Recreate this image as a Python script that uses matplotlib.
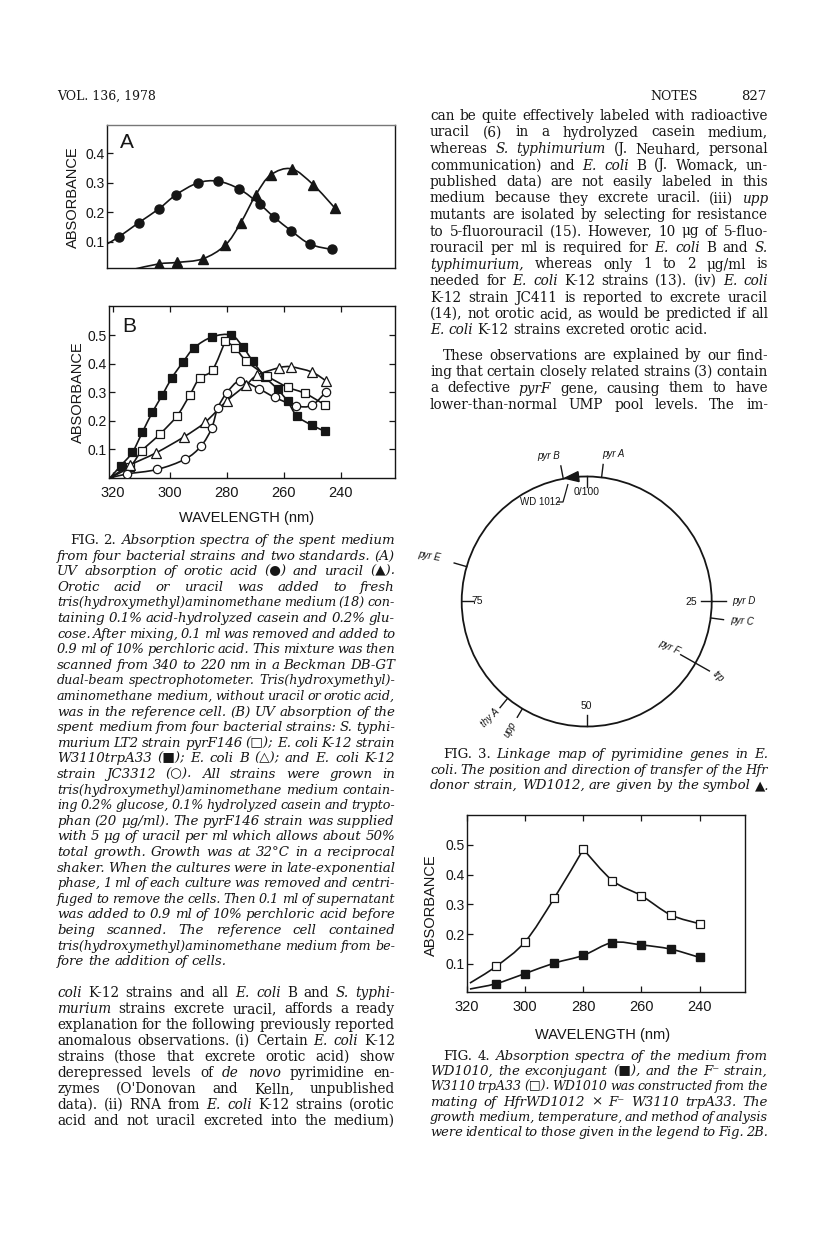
import numpy as np
import matplotlib
matplotlib.use('Agg')
import matplotlib.pyplot as plt
from matplotlib.path import Path
from matplotlib.patches import PathPatch, Circle, Polygon

# ---------------- DATA ----------------
# Fig. 2A : orotic acid (filled circles), uracil (filled triangles)
a_orotic_nm = [317, 310, 303, 297, 289.5, 282.5, 275, 268, 263, 257, 250.5, 243]
a_orotic_abs = [0.115, 0.164, 0.211, 0.259, 0.299, 0.305, 0.278, 0.227, 0.183, 0.136, 0.091, 0.073]
a_orotic_start = (321, 0.092)
a_uracil_nm = [303, 296.7, 287.8, 280, 274.6, 269.3, 264.2, 256.9, 249.4, 241.8]
a_uracil_abs = [0.024, 0.029, 0.041, 0.087, 0.163, 0.259, 0.326, 0.347, 0.293, 0.213]
a_uracil_start = (312, 0.005)

# Fig. 2B : four strains
b_start = (321, 0.0)
b_w3110_nm = [317.2, 313.1, 309.6, 306.1, 302.6, 299.3, 295.4, 291.4, 285.1, 278.4,
              274.2, 270.9, 266.6, 262.1, 258.7, 255.4, 250.2, 245.4]
b_w3110_abs = [0.043, 0.090, 0.160, 0.230, 0.290, 0.350, 0.405, 0.456, 0.494, 0.500,
               0.457, 0.409, 0.354, 0.310, 0.269, 0.217, 0.185, 0.163]
b_lt2_nm = [314, 309.8, 303.4, 297.4, 293, 289.5, 285, 280.5, 277, 273.2, 266, 258.7, 252.5, 245.4]
b_lt2_abs = [0.040, 0.095, 0.154, 0.218, 0.290, 0.350, 0.378, 0.480, 0.455, 0.410, 0.358, 0.318, 0.296, 0.255]
b_lt2_peak = 7
b_ecb_nm = [313.9, 304.8, 295, 287.6, 280, 273.3, 269.3, 261.6, 257.4, 250.2, 245.2]
b_ecb_abs = [0.045, 0.088, 0.144, 0.195, 0.270, 0.325, 0.360, 0.386, 0.389, 0.371, 0.340]
b_jc_nm = [315.1, 304.4, 294.6, 289, 285.3, 283.2, 280, 275.3, 268.7, 263.1, 255.8, 250.2, 245.2]
b_jc_abs = [0.014, 0.030, 0.066, 0.112, 0.174, 0.244, 0.298, 0.340, 0.312, 0.282, 0.253, 0.254, 0.302]

# Fig. 4
f4_nm = [310, 300, 290, 280, 270, 260, 250, 240]
f4_f_minus_abs = [0.092, 0.175, 0.321, 0.485, 0.380, 0.329, 0.265, 0.235]
f4_f_minus_peak = 3
f4_exconj_abs = [0.034, 0.068, 0.103, 0.129, 0.172, 0.164, 0.150, 0.122]
f4_f_minus_start = (319, 0.036)
f4_exconj_start = (319, 0.016)
f4_xticks = [320, 300, 280, 260, 240]
f2_xticks = [320, 300, 280, 260, 240]
yticks_a = [0.1, 0.2, 0.3, 0.4]
yticks_b = [0.1, 0.2, 0.3, 0.4, 0.5]

# Fig. 3 : map positions (minutes, 0-100)
map_scale = [0, 25, 50, 75]
map_scale_labels = ['0/100', '25', '50', '75']
gene_names = ['pyr A', 'pyr B', 'pyr E', 'pyr D', 'pyr C', 'thy A', 'upp']
gene_pos = [1.9, 97.0, 79.5, 25.0, 27.1, 60.9, 58.6]
pyrF_trp_pos = 33.2
wd1012_pos = 98.2

# ---------------- FIGURE ----------------
W, H = 816, 1234
fig = plt.figure(figsize=(W / 100, H / 100), dpi=100)
fig.patch.set_facecolor('white')
INK = '#161616'
SANS = 'Liberation Sans'
SERIF = 'DejaVu Serif'


def ax_at(x0, y0, x1, y1):
    return fig.add_axes([x0 / W, 1 - y1 / H, (x1 - x0) / W, (y1 - y0) / H])


def _bez(ax, pts, lw):
    pts = np.asarray(pts, float)
    n = len(pts)
    verts = [pts[0]]
    codes = [Path.MOVETO]
    for i in range(n - 1):
        p0 = pts[i - 1] if i > 0 else pts[i]
        p1, p2 = pts[i], pts[i + 1]
        p3 = pts[i + 2] if i + 2 < n else pts[i + 1]
        verts += [p1 + (p2 - p0) / 6, p2 - (p3 - p1) / 6, p2]
        codes += [Path.CURVE4] * 3
    patch = PathPatch(Path(verts, codes), fill=False, lw=lw, ec=INK, zorder=2)
    ax.add_patch(patch)
    patch.set_clip_path(ax.patch)


def smooth(ax, xs, ys, cusp=None, lw=1.2):
    pts = list(zip(xs, ys))
    if cusp is None:
        _bez(ax, pts, lw)
    else:
        _bez(ax, pts[:cusp + 1], lw)
        _bez(ax, pts[cusp:], lw)


def style_axes(ax, xlim, ylim, yticks, xticks=None, xlabels=True):
    ax.set_xlim(*xlim)
    ax.set_ylim(*ylim)
    for s in ax.spines.values():
        s.set_linewidth(1.0)
        s.set_color(INK)
    ax.set_yticks(yticks)
    ax.set_yticklabels(['%.1f' % v for v in yticks], fontsize=10, family=SANS, color=INK)
    ax.tick_params(axis='y', direction='in', length=4, width=0.9, pad=1.5,
                   right=True, colors=INK)
    if xticks is None:
        ax.set_xticks([])
    else:
        ax.set_xticks(xticks)
        if xlabels:
            ax.set_xticklabels([str(v) for v in xticks], fontsize=10.5, family=SANS, color=INK)
        ax.tick_params(axis='x', direction='in', length=4, width=0.9, pad=6, top=True, colors=INK)


# ----- Fig 2A -----
axA = ax_at(107, 125, 395, 268)
style_axes(axA, (321, 221), (0.01, 0.496), yticks_a)
axA.tick_params(axis='y', right=False)
axA.spines['top'].set_color('#777777')
smooth(axA, [a_orotic_start[0]] + a_orotic_nm, [a_orotic_start[1]] + a_orotic_abs)
smooth(axA, [a_uracil_start[0]] + a_uracil_nm, [a_uracil_start[1]] + a_uracil_abs)
axA.plot(a_orotic_nm, a_orotic_abs, 'o', ms=6.5, mfc=INK, mec=INK, zorder=3)
axA.plot(a_uracil_nm, a_uracil_abs, '^', ms=6.5, mfc=INK, mec=INK, zorder=3)
axA.text(0.045, 0.88, 'A', transform=axA.transAxes, fontsize=15, family=SANS, color=INK, va='center')
fig.text(73 / W, 1 - 197 / H, 'ABSORBANCE', rotation=90, ha='center', va='center',
         fontsize=10.5, family=SANS, color=INK)

# ----- Fig 2B -----
axB = ax_at(109, 306, 395, 478)
style_axes(axB, (321.3, 221), (0.0, 0.602), yticks_b, f2_xticks)
for nm, ab, mk, fc, cusp in [(b_w3110_nm, b_w3110_abs, 's', INK, None),
                             (b_lt2_nm, b_lt2_abs, 's', 'white', b_lt2_peak + 1),
                             (b_ecb_nm, b_ecb_abs, '^', 'white', None),
                             (b_jc_nm, b_jc_abs, 'o', 'white', None)]:
    smooth(axB, [b_start[0]] + nm, [b_start[1]] + ab, cusp=cusp)
    axB.plot(nm, ab, mk, ms=6 if mk != '^' else 6.5, mfc=fc, mec=INK, mew=0.9, zorder=3)
axB.text(0.045, 0.88, 'B', transform=axB.transAxes, fontsize=15, family=SANS, color=INK, va='center')
fig.text(78 / W, 1 - 392 / H, 'ABSORBANCE', rotation=90, ha='center', va='center',
         fontsize=10.5, family=SANS, color=INK)
fig.text(247 / W, 1 - 518 / H, 'WAVELENGTH (nm)', ha='center', va='center',
         fontsize=10.5, family=SANS, color=INK)

# ----- Fig 4 -----
ax4 = ax_at(467, 815, 745, 992)
style_axes(ax4, (319, 224.4), (0.006, 0.600), yticks_b, f4_xticks)
ax4.tick_params(axis='y', right=False)
smooth(ax4, [f4_f_minus_start[0]] + f4_nm, [f4_f_minus_start[1]] + f4_f_minus_abs,
       cusp=f4_f_minus_peak + 1)
smooth(ax4, [f4_exconj_start[0]] + f4_nm, [f4_exconj_start[1]] + f4_exconj_abs)
ax4.plot(f4_nm, f4_f_minus_abs, 's', ms=6, mfc='white', mec=INK, mew=0.9, zorder=3)
ax4.plot(f4_nm, f4_exconj_abs, 's', ms=6, mfc=INK, mec=INK, zorder=3)
fig.text(431 / W, 1 - 905 / H, 'ABSORBANCE', rotation=90, ha='center', va='center',
         fontsize=10.5, family=SANS, color=INK)
fig.text(603 / W, 1 - 1035 / H, 'WAVELENGTH (nm)', ha='center', va='center',
         fontsize=10.5, family=SANS, color=INK)

# ----- Fig 3 (drawn in page-pixel coordinates) -----
ax3 = ax_at(420, 440, 770, 745)
ax3.set_xlim(420, 770)
ax3.set_ylim(745, 440)
ax3.axis('off')
cx, cy, R = 586.7, 601.5, 125.0
ax3.add_patch(Circle((cx, cy), R, fill=False, lw=1.3, ec=INK))


def pt(pos, r):
    a = np.deg2rad(pos * 3.6)
    return cx + r * np.sin(a), cy - r * np.cos(a)


for p, lab in zip(map_scale, map_scale_labels):
    x1, y1 = pt(p, R)
    x2, y2 = pt(p, R - 11)
    ax3.plot([x1, x2], [y1, y2], color=INK, lw=1.0)
lab_off = {'0/100': (0, 16), '25': (-20, 1), '50': (0, -20), '75': (15, 0)}
for p, lab in zip(map_scale, map_scale_labels):
    x1, y1 = pt(p, R)
    dx, dy = lab_off[lab]
    ax3.text(x1 + dx, y1 + dy, lab, ha='center', va='center', fontsize=7.5, family=SANS, color=INK)

gene_style = {'pyr A': (13, (10, -10), 0),
              'pyr B': (13, (-12, -10), 0),
              'pyr E': (13, (-25, -7), -10),
              'pyr D': (14, (18, 0), 0),
              'pyr C': (13, (19, 1), -5),
              'thy A': (12, (-10, 10), 45),
              'upp': (10, (-7, 12), 62)}
for name, p in zip(gene_names, gene_pos):
    L, (ox, oy), rot = gene_style[name]
    x1, y1 = pt(p, R)
    x2, y2 = pt(p, R + L)
    ax3.plot([x1, x2], [y1, y2], color=INK, lw=1.0)
    ax3.text(x2 + ox, y2 + oy, name, ha='center', va='center', fontsize=7, family=SANS,
             style='italic', rotation=rot, color=INK)
x1, y1 = pt(pyrF_trp_pos, R - 17)
x2, y2 = pt(pyrF_trp_pos, R + 16)
ax3.plot([x1, x2], [y1, y2], color=INK, lw=1.0)
ax3.text(x1 - 11, y1 - 8, 'pyr F', ha='center', va='center', fontsize=7, family=SANS,
         style='italic', rotation=-25, color=INK)
ax3.text(x2 + 9, y2 + 6, 'trp', ha='center', va='center', fontsize=7, family=SANS,
         style='italic', rotation=-45, color=INK)
tx, ty = pt(wd1012_pos, R)
a = np.deg2rad(wd1012_pos * 3.6)
tang = np.array([-np.cos(a), -np.sin(a)])
norm = np.array([np.sin(a), -np.cos(a)])
tip = np.array([tx, ty]) + tang * 8
base = np.array([tx, ty]) - tang * 6
ax3.add_patch(Polygon([tip, base + norm * 5, base - norm * 5], closed=True, fc=INK, ec=INK))
leader = Path([(557, 502), (563, 502), (565, 495), (568, 484)],
              [Path.MOVETO, Path.LINETO, Path.CURVE3, Path.CURVE3])
ax3.add_patch(PathPatch(leader, fill=False, lw=0.9, ec=INK))
ax3.text(540, 502.5, 'WD 1012', ha='center', va='center', fontsize=7, family=SANS, color=INK)

# ---------------- TEXT ----------------
renderer = fig.canvas.get_renderer()
_wcache = {}


def wwidth(word, size, style):
    key = (word, size, style)
    if key not in _wcache:
        t = fig.text(0, 0, word, fontsize=size, family=SERIF, style=style)
        _wcache[key] = t.get_window_extent(renderer).width
        t.remove()
    return _wcache[key]


def paragraph(lines, x0, x1, ybase0, dy, base_style='normal', size=9.6, indent=0,
              justify_last=False):
    alt = 'italic' if base_style == 'normal' else 'normal'
    for i, line in enumerate(lines):
        words = line.split(' ')
        styles, clean = [], []
        for w in words:
            if w.startswith('~'):
                styles.append(alt)
                clean.append(w[1:])
            else:
                styles.append(base_style)
                clean.append(w)
        left = x0 + (indent if i == 0 else 0)
        avail = x1 - left
        last = (i == len(lines) - 1) and not justify_last
        sz = size
        while True:
            widths = [wwidth(w, sz, s) for w, s in zip(clean, styles)]
            space = wwidth('a a', sz, base_style) - 2 * wwidth('a', sz, base_style)
            if sum(widths) + space * 0.55 * (len(clean) - 1) <= avail or sz < 6:
                break
            sz -= 0.2
        if last or len(clean) == 1:
            gap = space
        else:
            gap = (avail - sum(widths)) / (len(clean) - 1)
        x = left
        y = ybase0 + i * dy
        for w, s, wd in zip(clean, styles, widths):
            fig.text(x / W, 1 - y / H, w, fontsize=sz, family=SERIF, style=s,
                     ha='left', va='baseline', color=INK)
            x += wd + gap


# header
fig.text(57 / W, 1 - 100 / H, 'VOL. 136, 1978', fontsize=9, family=SERIF, color=INK, va='baseline')
fig.text(650 / W, 1 - 100 / H, 'NOTES', fontsize=9, family=SERIF, color=INK, va='baseline')
fig.text(766 / W, 1 - 100 / H, '827', fontsize=9.5, family=SERIF, color=INK, ha='right', va='baseline')

# right column body text
p1 = ["can be quite effectively labeled with radioactive",
      "uracil (6) in a hydrolyzed casein medium,",
      "whereas ~S. ~typhimurium (J. Neuhard, personal",
      "communication) and ~E. ~coli B (J. Womack, un-",
      "published data) are not easily labeled in this",
      "medium because they excrete uracil. (iii) ~upp",
      "mutants are isolated by selecting for resistance",
      "to 5-fluorouracil (15). However, 10 \u03bcg of 5-fluo-",
      "rouracil per ml is required for ~E. ~coli B and ~S.",
      "~typhimurium, whereas only 1 to 2 \u03bcg/ml is",
      "needed for ~E. ~coli K-12 strains (13). (iv) ~E. ~coli",
      "K-12 strain JC411 is reported to excrete uracil",
      "(14), not orotic acid, as would be predicted if all",
      "~E. ~coli K-12 strains excreted orotic acid."]
paragraph(p1, 430, 768, 120, 16.5, size=9.8)
p2 = ["These observations are explained by our find-",
      "ing that certain closely related strains (3) contain",
      "a defective ~pyrF gene, causing them to have",
      "lower-than-normal UMP pool levels. The im-"]
paragraph(p2, 430, 768, 120 + 13 * 16.5 + 25, 16.5, size=9.8, indent=13, justify_last=True)

# Fig 2 caption
cap2 = ["~FIG. ~2. Absorption spectra of the spent medium",
        "from four bacterial strains and two standards. (A)",
        "UV absorption of orotic acid (\u25cf) and uracil (\u25b2).",
        "Orotic acid or uracil was added to fresh",
        "tris(hydroxymethyl)aminomethane medium (18) con-",
        "taining 0.1% acid-hydrolyzed casein and 0.2% glu-",
        "cose. After mixing, 0.1 ml was removed and added to",
        "0.9 ml of 10% perchloric acid. This mixture was then",
        "scanned from 340 to 220 nm in a Beckman DB-GT",
        "dual-beam spectrophotometer. Tris(hydroxymethyl)-",
        "aminomethane medium, without uracil or orotic acid,",
        "was in the reference cell. (B) UV absorption of the",
        "spent medium from four bacterial strains: S. typhi-",
        "murium LT2 strain pyrF146 (\u25a1); E. coli K-12 strain",
        "W3110trpA33 (\u25a0); E. coli B (\u25b3); and E. coli K-12",
        "strain JC3312 (\u25cb). All strains were grown in",
        "tris(hydroxymethyl)aminomethane medium contain-",
        "ing 0.2% glucose, 0.1% hydrolyzed casein and trypto-",
        "phan (20 \u03bcg/ml). The pyrF146 strain was supplied",
        "with 5 \u03bcg of uracil per ml which allows about 50%",
        "total growth. Growth was at 32\u00b0C in a reciprocal",
        "shaker. When the cultures were in late-exponential",
        "phase, 1 ml of each culture was removed and centri-",
        "fuged to remove the cells. Then 0.1 ml of supernatant",
        "was added to 0.9 ml of 10% perchloric acid before",
        "being scanned. The reference cell contained",
        "tris(hydroxymethyl)aminomethane medium from be-",
        "fore the addition of cells."]
paragraph(cap2, 57, 395, 544, 15.6, base_style='italic', indent=13)

# left column body text
p3 = ["~coli K-12 strains and all ~E. ~coli B and ~S. ~typhi-",
      "~murium strains excrete uracil, affords a ready",
      "explanation for the following previously reported",
      "anomalous observations. (i) Certain ~E. ~coli K-12",
      "strains (those that excrete orotic acid) show",
      "derepressed levels of ~de ~novo pyrimidine en-",
      "zymes (O'Donovan and Kelln, unpublished",
      "data). (ii) RNA from ~E. ~coli K-12 strains (orotic",
      "acid and not uracil excreted into the medium)"]
paragraph(p3, 57, 395, 997, 16.0, size=9.8, justify_last=True)

# Fig 3 caption
cap3 = ["~FIG. ~3. Linkage map of pyrimidine genes in E.",
        "coli. The position and direction of transfer of the Hfr",
        "donor strain, WD1012, are given by the symbol \u25b2."]
paragraph(cap3, 430, 768, 758, 15.6, base_style='italic', indent=13)

# Fig 4 caption
cap4 = ["~FIG. ~4. Absorption spectra of the medium from",
        "WD1010, the exconjugant (\u25a0), and the F\u207b strain,",
        "W3110 trpA33 (\u25a1). WD1010 was constructed from the",
        "mating of HfrWD1012 \u00d7 F\u207b W3110 trpA33. The",
        "growth medium, temperature, and method of analysis",
        "were identical to those given in the legend to Fig. 2B."]
paragraph(cap4, 430, 768, 1060, 15.2, base_style='italic', indent=13, justify_last=True)

fig.savefig('out.png', dpi=100, facecolor='white')
